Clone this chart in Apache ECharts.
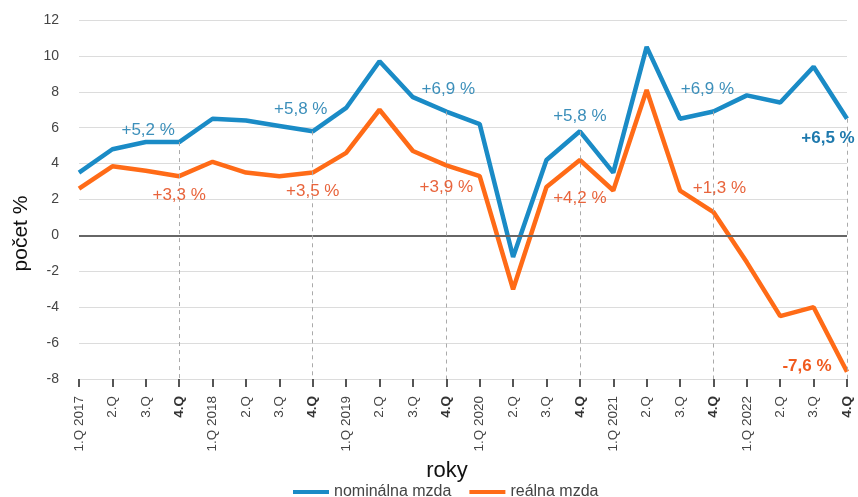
<!DOCTYPE html>
<html>
<head>
<meta charset="utf-8">
<script src="https://cdn.jsdelivr.net/npm/echarts@6/dist/echarts.min.js"></script>
<style>html,body{margin:0;padding:0;background:#fff}#c{width:858px;height:497px}</style>
</head>
<body>
<div id="c"></div>
<script>
const categories = ['1.Q 2017','2.Q','3.Q','4.Q','1.Q 2018','2.Q','3.Q','4.Q','1.Q 2019','2.Q','3.Q','4.Q','1.Q 2020','2.Q','3.Q','4.Q','1.Q 2021','2.Q','3.Q','4.Q','1.Q 2022','2.Q','3.Q','4.Q'];
const nominal = [3.5,4.8,5.2,5.2,6.5,6.4,6.1,5.8,7.1,9.7,7.7,6.9,6.2,-1.2,4.2,5.8,3.5,10.5,6.5,6.9,7.8,7.4,9.4,6.5];
const real = [2.6,3.85,3.6,3.3,4.1,3.5,3.3,3.5,4.6,7.0,4.7,3.9,3.3,-3.0,2.7,4.2,2.5,8.1,2.5,1.3,-1.5,-4.5,-4.0,-7.6];
const yTicks = {min:-8, max:12, interval:2};
const seriesNames = ['nominálna mzda','reálna mzda'];
const q4Idx = [3,7,11,15,19,23];
const nominalNotes = ['+5,2 %','+5,8 %','+6,9 %','+5,8 %','+6,9 %','+6,5 %'];
const realNotes = ['+3,3 %','+3,5 %','+3,9 %','+4,2 %','+1,3 %','-7,6 %'];

// label placement (style only)
const nomOff = [[-31,-12],[-12,-22],[2,-22],[0,-15],[-6,-22],[-19,20]];
const realOff = [[0,19],[0,19],[0,22],[0,38],[6,-24],[-40,-6]];

const FONT='Liberation Sans, Arial, sans-serif';
const BLUE='#1a8bc6', ORANGE='#ff6b17';
function notes(vals, texts, offs, color, boldColor){
  return q4Idx.map((idx,k)=>({
    coord:[idx, vals[idx]],
    symbol:'circle', symbolSize:1,
    itemStyle:{color:'rgba(0,0,0,0)'},
    label:{show:true, position:'inside', offset:offs[k], formatter:texts[k],
      fontSize:17, fontFamily:FONT,
      color: k===5?boldColor:color, fontWeight: k===5?'bold':'normal'}
  }));
}

const chart = echarts.init(document.getElementById('c'));
chart.setOption({
  animation:false,
  textStyle:{fontFamily:FONT},
  grid:{left:79,right:11,top:20,bottom:118,containLabel:false},
  legend:{top:484,left:293,padding:0,itemWidth:36,itemHeight:4,itemGap:18,icon:'rect',
    textStyle:{fontSize:16,color:'#444'},data:seriesNames},
  xAxis:{type:'category',data:categories,boundaryGap:false,
    name:'roky',nameLocation:'middle',nameGap:80,
    nameTextStyle:{fontSize:22,color:'#111',padding:[0,32,0,0]},
    axisLine:{show:false,onZero:false},
    axisTick:{show:true,length:8,lineStyle:{color:'#555',width:2}},
    axisLabel:{rotate:90,interval:0,margin:17,fontSize:13.5,color:'#444',
      formatter:v=>v==='4.Q'?'{b|4.Q}':v,rich:{b:{fontWeight:'bold',fontSize:13.5,color:'#333'}}},
    splitLine:{show:false}},
  yAxis:{type:'value',min:yTicks.min,max:yTicks.max,interval:yTicks.interval,
    name:'počet %',nameLocation:'middle',nameGap:47,
    nameTextStyle:{fontSize:21,color:'#111',padding:[0,68,0,0]},
    axisLine:{show:false},axisTick:{show:false},
    axisLabel:{fontSize:14,color:'#444',margin:20},
    splitLine:{lineStyle:{color:'#dcdcdc',width:1}}},
  series:[
    {name:seriesNames[1],type:'line',data:real,symbol:'none',
      lineStyle:{color:ORANGE,width:4.5},itemStyle:{color:ORANGE},z:3,
      markLine:{silent:true,symbol:'none',label:{show:false},
        lineStyle:{color:'#666',width:2,type:'solid'},data:[{yAxis:0}]},
      markPoint:{silent:true,data:notes(real,realNotes,realOff,'#e8643c','#f05a1e')}},
    {name:seriesNames[0],type:'line',data:nominal,symbol:'none',
      lineStyle:{color:BLUE,width:4.5},itemStyle:{color:BLUE},z:4,
      markLine:{silent:true,symbol:'none',label:{show:false},
        lineStyle:{color:'#aaa',width:1,type:[4,4]},
        data:q4Idx.map(i=>[{coord:[i,nominal[i]]},{coord:[i,yTicks.min]}])},
      markPoint:{silent:true,data:notes(nominal,nominalNotes,nomOff,'#3c8fba','#1e79ad')}}
  ]
});
</script>
</body>
</html>
